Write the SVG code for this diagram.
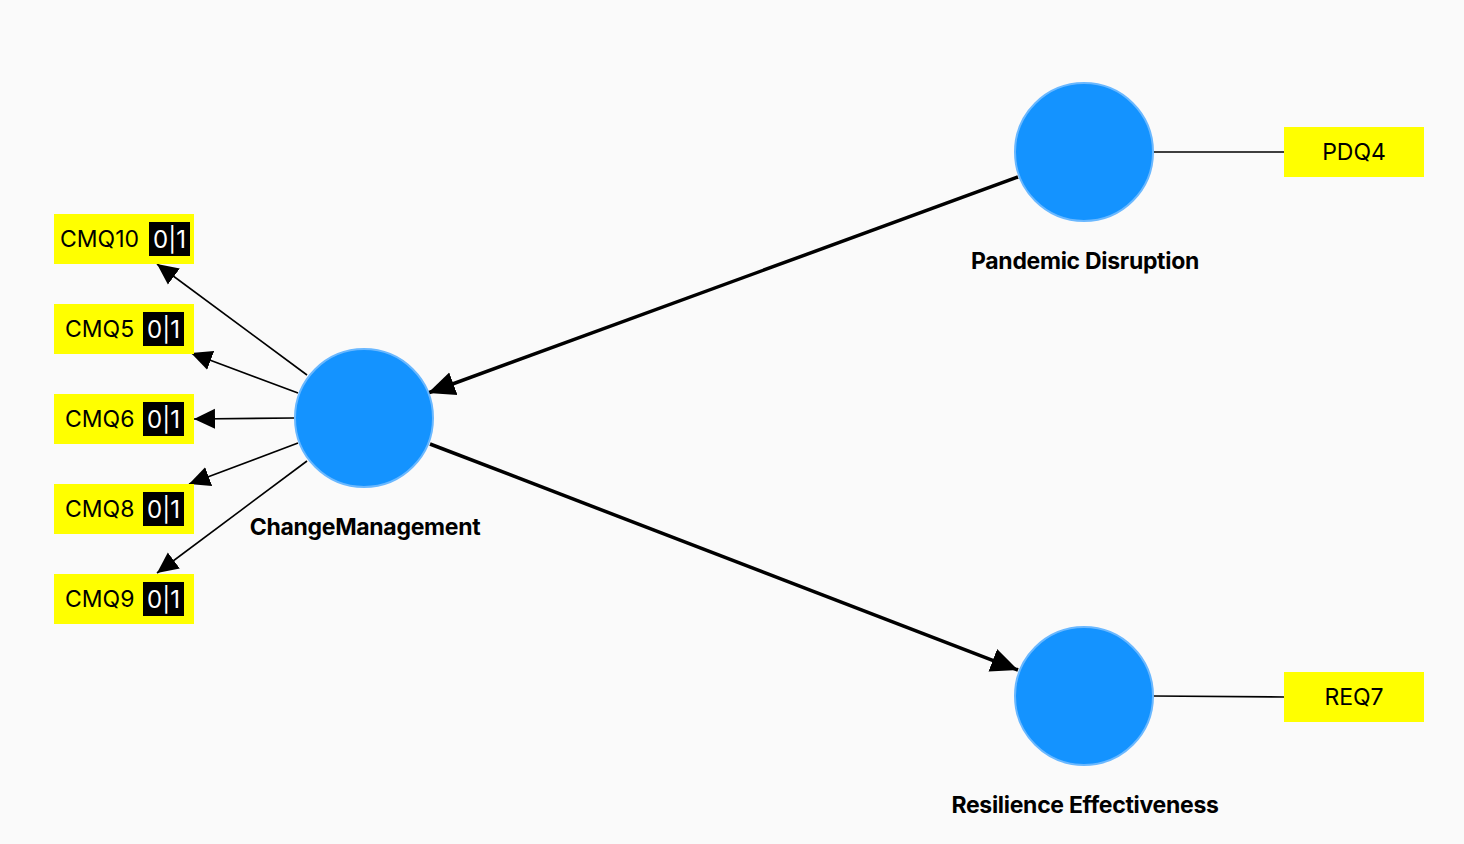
<svg xmlns="http://www.w3.org/2000/svg" width="1464" height="844" viewBox="0 0 1464 844">
<defs>
<marker id="ah" markerUnits="userSpaceOnUse" markerWidth="22" markerHeight="22" viewBox="0 0 22 22" refX="21" refY="11" orient="auto"><path d="M0,1 L21,11 L0,21 Z" fill="#000"/></marker>
<marker id="ahb" markerUnits="userSpaceOnUse" markerWidth="28" markerHeight="26" viewBox="0 0 28 26" refX="27" refY="13" orient="auto"><path d="M0,1 L27,13 L0,25 Z" fill="#000"/></marker>
</defs>
<style>
.lv{fill:#1493ff;stroke:#6ab8ff;stroke-width:2}
.ind{fill:#ffff00}
.badge{fill:#000}
.t{font-family:Inter,"Noto Sans","Liberation Sans",sans-serif;font-size:23px;fill:#000}
.bt{font-family:Inter,"Noto Sans","Liberation Sans",sans-serif;font-size:24px;fill:#fff}
.lbl{font-family:Inter,"Noto Sans","Liberation Sans",sans-serif;font-size:23px;font-weight:bold;fill:#000;text-anchor:middle;letter-spacing:-0.3px}
.thin{stroke:#000;stroke-width:1.6;fill:none}
.thick{stroke:#000;stroke-width:3.5;fill:none}
</style>
<rect x="0" y="0" width="1464" height="844" fill="#fafafa"/>
<g id="connectors">
<line class="thick" x1="1018" y1="177" x2="428" y2="393" marker-end="url(#ahb)"/>
<line class="thick" x1="430" y1="444" x2="1018" y2="670" marker-end="url(#ahb)"/>
<line class="thin" x1="307" y1="375" x2="157" y2="264" marker-end="url(#ah)"/>
<line class="thin" x1="298" y1="393" x2="191" y2="353" marker-end="url(#ah)"/>
<line class="thin" x1="294" y1="418" x2="194" y2="419" marker-end="url(#ah)"/>
<line class="thin" x1="298" y1="443" x2="189" y2="484" marker-end="url(#ah)"/>
<line class="thin" x1="307" y1="461" x2="157" y2="573" marker-end="url(#ah)"/>
<line class="thin" x1="1153" y1="152" x2="1284" y2="152"/>
<line class="thin" x1="1153" y1="696" x2="1284" y2="697"/>
</g>
<g id="ChangeManagement">
<circle class="lv" cx="364" cy="418" r="69"/>
<text class="lbl" x="365" y="535">ChangeManagement</text>
</g>
<g id="PandemicDisruption">
<circle class="lv" cx="1084" cy="152" r="69"/>
<text class="lbl" x="1085" y="269">Pandemic Disruption</text>
</g>
<g id="ResilienceEffectiveness">
<circle class="lv" cx="1084" cy="696" r="69"/>
<text class="lbl" x="1085" y="813">Resilience Effectiveness</text>
</g>
<g id="PDQ4">
<rect class="ind" x="1284" y="127" width="140" height="50"/>
<text class="t" x="1354" y="160" text-anchor="middle">PDQ4</text>
</g>
<g id="REQ7">
<rect class="ind" x="1284" y="672" width="140" height="50"/>
<text class="t" x="1354" y="705" text-anchor="middle">REQ7</text>
</g>
<g id="CMQ10">
<rect class="ind" x="54" y="214" width="140" height="50"/>
<text class="t" x="60" y="247">CMQ10</text>
<rect class="badge" x="149" y="222" width="41" height="34"/>
<text class="bt" x="169.5" y="248" text-anchor="middle">0|1</text>
</g>
<g id="CMQ5">
<rect class="ind" x="54" y="304" width="140" height="50"/>
<text class="t" x="65" y="337">CMQ5</text>
<rect class="badge" x="143" y="312" width="41" height="34"/>
<text class="bt" x="163.5" y="338" text-anchor="middle">0|1</text>
</g>
<g id="CMQ6">
<rect class="ind" x="54" y="394" width="140" height="50"/>
<text class="t" x="65" y="427">CMQ6</text>
<rect class="badge" x="143" y="402" width="41" height="34"/>
<text class="bt" x="163.5" y="428" text-anchor="middle">0|1</text>
</g>
<g id="CMQ8">
<rect class="ind" x="54" y="484" width="140" height="50"/>
<text class="t" x="65" y="517">CMQ8</text>
<rect class="badge" x="143" y="492" width="41" height="34"/>
<text class="bt" x="163.5" y="518" text-anchor="middle">0|1</text>
</g>
<g id="CMQ9">
<rect class="ind" x="54" y="574" width="140" height="50"/>
<text class="t" x="65" y="607">CMQ9</text>
<rect class="badge" x="143" y="582" width="41" height="34"/>
<text class="bt" x="163.5" y="608" text-anchor="middle">0|1</text>
</g>
</svg>
